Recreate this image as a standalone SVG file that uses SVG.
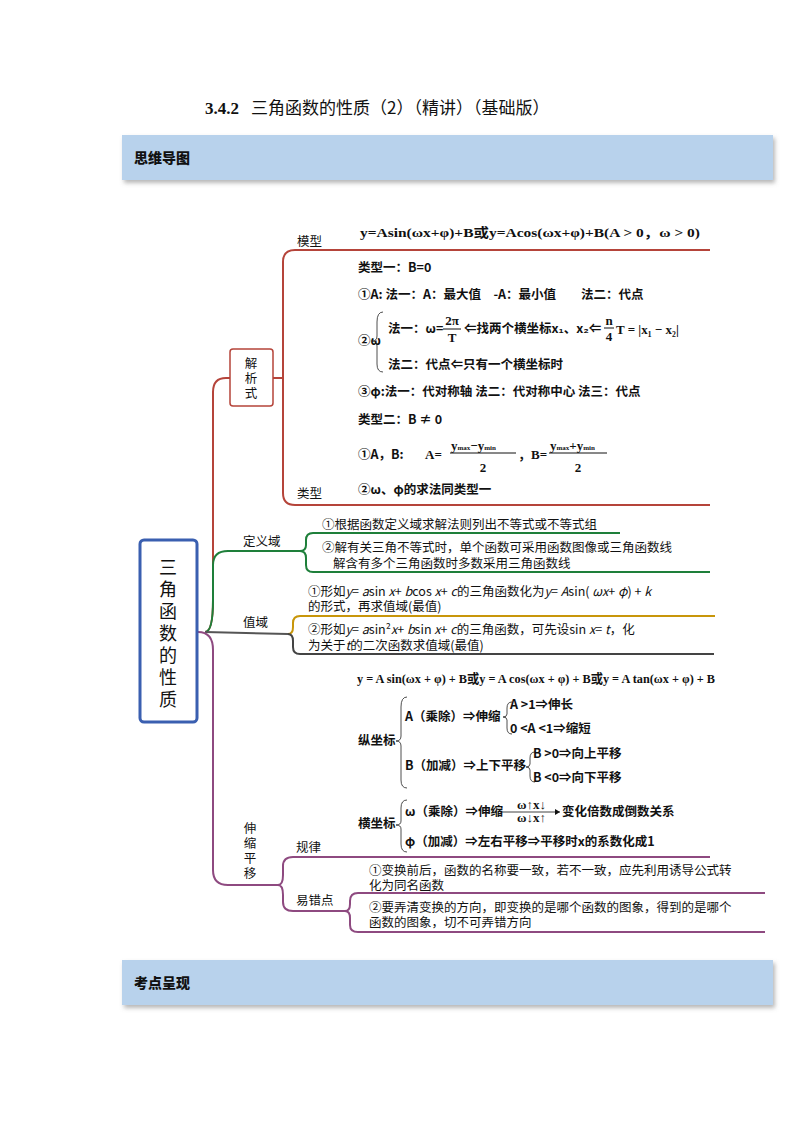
<svg xmlns="http://www.w3.org/2000/svg" width="794" height="1123" viewBox="0 0 794 1123">
<defs>
<filter id="sh" x="-5%" y="-20%" width="110%" height="150%"><feDropShadow dx="2" dy="3" stdDeviation="2" flood-color="#888" flood-opacity="0.6"/></filter>
</defs>
<style>
.t{font-family:"Noto Sans CJK SC","Noto Sans",sans-serif;font-size:12.5px;fill:#111}
.m{font-family:"Liberation Serif","Noto Sans CJK SC",serif;font-size:13px;font-weight:bold;fill:#111}
.s{font-family:"Noto Sans CJK SC",sans-serif;font-size:12.5px;font-weight:bold;fill:#111}
.hd{font-family:"Noto Sans CJK SC",sans-serif;font-size:14px;font-weight:900;fill:#111}
.ln{fill:none;stroke-width:2}
.br{fill:none;stroke:#222;stroke-width:0.8}
</style>
<rect width="794" height="1123" fill="#fff"/>
<text x="205" y="114" font-family="Liberation Serif,'Noto Sans CJK SC',serif" font-size="17" font-weight="bold" fill="#111">3.4.2<tspan font-family="Noto Sans CJK SC,sans-serif" font-weight="normal" dx="12">三角函数的性质（2）（精讲）（基础版）</tspan></text>
<g id="hdr1"><rect x="122" y="135" width="651" height="45" fill="#b8d2ec" filter="url(#sh)"/><text class="hd" x="134" y="163">思维导图</text></g>
<g id="hdr2"><rect x="122" y="960" width="651" height="45" fill="#b8d2ec" filter="url(#sh)"/><text class="hd" x="134" y="988">考点呈现</text></g>

<g id="connectors">
<path class="ln" stroke="#b5443a" d="M205 632 Q213 632 213 600 L213 392 Q213 378 226 378 L230 378"/>
<path class="ln" stroke="#b5443a" d="M273 378 L283 378 M283 378 L283 262 Q283 250 295 250 L710 250 M283 378 L283 493 Q283 505 295 505 L710 505"/>
<path class="ln" stroke="#1e7f3a" d="M205 632 Q213 632 213 600 L213 565 Q213 551 228 551 L300 551 Q306 551 306 545 L306 540 Q306 533 313 533 L620 533 M300 551 Q306 551 306 558 L306 565 Q306 572 313 572 L710 572"/>
<path class="ln" stroke="#555" d="M205 632 L288 634"/>
<path class="ln" stroke="#c8960a" d="M288 634 Q293 634 293 627 L293 623 Q293 616 300 616 L715 616"/>
<path class="ln" stroke="#444" d="M288 634 Q293 634 293 641 L293 647 Q293 654 300 654 L714 654"/>
<path class="ln" stroke="#8e4a80" d="M198 632 Q213 632 213 650 L213 870 Q213 885 228 885 L278 885 M278 885 Q283 885 283 875 L283 866 Q283 857 293 857 L710 857 M278 885 Q283 885 283 895 L283 902 Q283 911 293 911 L345 911 M345 911 Q350 911 350 904 L350 901 Q350 893 358 893 L765 893 M345 911 Q350 911 350 918 L350 925 Q350 932 358 932 L765 932"/>
</g>

<g id="center"><rect x="140" y="540" width="57" height="182" rx="4" fill="#fff" stroke="#3a5fb0" stroke-width="3"/>
<text font-family="Noto Sans CJK SC,sans-serif" font-size="18" fill="#111" text-anchor="middle"><tspan x="168" y="574">三</tspan><tspan x="168" y="596">角</tspan><tspan x="168" y="618">函</tspan><tspan x="168" y="640">数</tspan><tspan x="168" y="662">的</tspan><tspan x="168" y="684">性</tspan><tspan x="168" y="706">质</tspan></text></g>

<g id="jiexishi"><rect x="230" y="349" width="43" height="57" rx="3" fill="#fff" stroke="#b5443a" stroke-width="1.5"/>
<text class="t" font-size="13" text-anchor="middle"><tspan x="251" y="368">解</tspan><tspan x="251" y="383">析</tspan><tspan x="251" y="398">式</tspan></text></g>

<g id="moxing">
<text class="t" x="297" y="246">模型</text>
<text class="m" x="360" y="237" font-size="14" textLength="340" lengthAdjust="spacingAndGlyphs">y=Asin(ωx+φ)+B或y=Acos(ωx+φ)+B(A &gt; 0，ω &gt; 0)</text>
</g>
<g id="leixing">
<text class="t" x="297" y="498">类型</text>
<text class="s" x="358" y="272">类型一：B=0</text>
<text class="s" x="358" y="299">①A: 法一：A：最大值　-A：最小值　　法二：代点</text>
<text class="s" x="358" y="345">②ω</text>
<path class="br" d="M383 312 Q377 312 377 322 L377 336 Q377 341 372 341 Q377 341 377 346 L377 364 Q377 372 383 372"/>
<text class="s" x="388" y="333">法一：ω=</text>
<text class="m" x="452" y="325" font-size="12" text-anchor="middle">2π</text>
<line x1="443" y1="329" x2="461" y2="329" stroke="#111"/>
<text class="m" x="452" y="342" text-anchor="middle">T</text>
<text class="s" x="464" y="333">⇐找两个横坐标x₁、x₂⇐</text>
<text class="m" x="609" y="325" font-size="11" text-anchor="middle">n</text>
<line x1="604" y1="328" x2="614" y2="328" stroke="#111"/>
<text class="m" x="609" y="341" font-size="11" text-anchor="middle">4</text>
<text class="m" x="616" y="334">T = |x₁ − x₂|</text>
<text class="s" x="388" y="369">法二：代点⇐只有一个横坐标时</text>
<text class="s" x="358" y="396">③φ:法一：代对称轴 法二：代对称中心 法三：代点</text>
<text class="s" x="358" y="424">类型二：B ≠ 0</text>
<text class="s" x="358" y="459">①A，B:</text>
<text class="m" x="425" y="459">A=</text>
<text class="m" x="451" y="450" font-size="10">y<tspan font-size="7">max</tspan>−y<tspan font-size="7">min</tspan></text>
<line x1="450" y1="453" x2="516" y2="453" stroke="#111"/>
<text class="m" x="483" y="472" text-anchor="middle">2</text>
<text class="m" x="518" y="459">，B=</text>
<text class="m" x="550" y="450" font-size="10">y<tspan font-size="7">max</tspan>+y<tspan font-size="7">min</tspan></text>
<line x1="549" y1="453" x2="607" y2="453" stroke="#111"/>
<text class="m" x="578" y="472" text-anchor="middle">2</text>
<text class="s" x="358" y="494">②ω、φ的求法同类型一</text>
</g>

<g id="dingyiyu">
<text class="t" x="243" y="546">定义域</text>
<text class="t" x="322" y="529">①根据函数定义域求解法则列出不等式或不等式组</text>
<text class="t" x="322" y="552">②解有关三角不等式时，单个函数可采用函数图像或三角函数线</text>
<text class="t" x="333" y="568">解含有多个三角函数时多数采用三角函数线</text>
</g>

<g id="zhiyu">
<text class="t" x="243" y="627">值域</text>
<text class="t" x="308" y="596">①形如<tspan font-style="italic">y</tspan>= <tspan font-style="italic">a</tspan>sin <tspan font-style="italic">x</tspan>+ <tspan font-style="italic">b</tspan>cos <tspan font-style="italic">x</tspan>+ <tspan font-style="italic">c</tspan>的三角函数化为<tspan font-style="italic">y</tspan>= <tspan font-style="italic">A</tspan>sin( <tspan font-style="italic">ωx</tspan>+ <tspan font-style="italic">φ</tspan>) + <tspan font-style="italic">k</tspan></text>
<text class="t" x="308" y="611">的形式，再求值域(最值)</text>
<text class="t" x="308" y="634">②形如<tspan font-style="italic">y</tspan>= <tspan font-style="italic">a</tspan>sin²<tspan font-style="italic">x</tspan>+ <tspan font-style="italic">b</tspan>sin <tspan font-style="italic">x</tspan>+ <tspan font-style="italic">c</tspan>的三角函数，可先设sin <tspan font-style="italic">x</tspan>= <tspan font-style="italic">t</tspan>，化</text>
<text class="t" x="308" y="650">为关于<tspan font-style="italic">t</tspan>的二次函数求值域(最值)</text>
</g>

<g id="shensuo">
<text class="t" font-size="12" text-anchor="middle"><tspan x="250" y="833">伸</tspan><tspan x="250" y="848">缩</tspan><tspan x="250" y="863">平</tspan><tspan x="250" y="878">移</tspan></text>
<text class="t" x="296" y="852">规律</text>
<text class="t" x="296" y="905">易错点</text>
<text class="m" x="357" y="683" font-size="12" textLength="358" lengthAdjust="spacingAndGlyphs">y = A sin(ωx + φ) + B或y = A cos(ωx + φ) + B或y = A tan(ωx + φ) + B</text>
<text class="s" x="358" y="745" font-size="11.5">纵坐标</text>
<path class="br" d="M407 697 Q401 697 401 707 L401 736 Q401 741 396 741 Q401 741 401 746 L401 780 Q401 788 407 788"/>
<text class="s" x="405" y="721" font-size="11.5">A（乘除）⇒伸缩</text>
<path class="br" d="M512 702 Q507 702 507 708 L507 714 Q507 717 503 717 Q507 717 507 720 L507 728 Q507 734 512 734"/>
<text class="s" x="510" y="709" font-size="11.5">A &gt;1⇒伸长</text>
<text class="s" x="510" y="733" font-size="11.5">0 &lt;A &lt;1⇒缩短</text>
<text class="s" x="405" y="770" font-size="11.5">B（加减）⇒上下平移</text>
<path class="br" d="M535 752 Q530 752 530 758 L530 764 Q530 767 526 767 Q530 767 530 770 L530 776 Q530 782 535 782"/>
<text class="s" x="533" y="758" font-size="11.5">B &gt;0⇒向上平移</text>
<text class="s" x="533" y="782" font-size="11.5">B &lt;0⇒向下平移</text>
<text class="s" x="358" y="828" font-size="11.5">横坐标</text>
<path class="br" d="M407 800 Q401 800 401 808 L401 821 Q401 825 396 825 Q401 825 401 829 L401 844 Q401 852 407 852"/>
<text class="s" x="405" y="816" font-size="11.5">ω（乘除）⇒伸缩</text>
<line x1="500" y1="812" x2="560" y2="812" stroke="#111" stroke-width="0.8"/>
<path d="M560 812 l-5 -3 v6 z" fill="#111"/>
<text class="m" x="517" y="809" font-size="8">ω↑x↓</text>
<text class="m" x="517" y="822" font-size="8">ω↓x↑</text>
<text class="s" x="562" y="816" font-size="11.5">变化倍数成倒数关系</text>
<text class="s" x="405" y="846" font-size="11.5">φ（加减）⇒左右平移⇒平移时x的系数化成1</text>
<text class="t" x="369" y="875">①变换前后，函数的名称要一致，若不一致，应先利用诱导公式转</text>
<text class="t" x="369" y="890">化为同名函数</text>
<text class="t" x="369" y="912">②要弄清变换的方向，即变换的是哪个函数的图象，得到的是哪个</text>
<text class="t" x="369" y="927">函数的图象，切不可弄错方向</text>
</g>
</svg>
